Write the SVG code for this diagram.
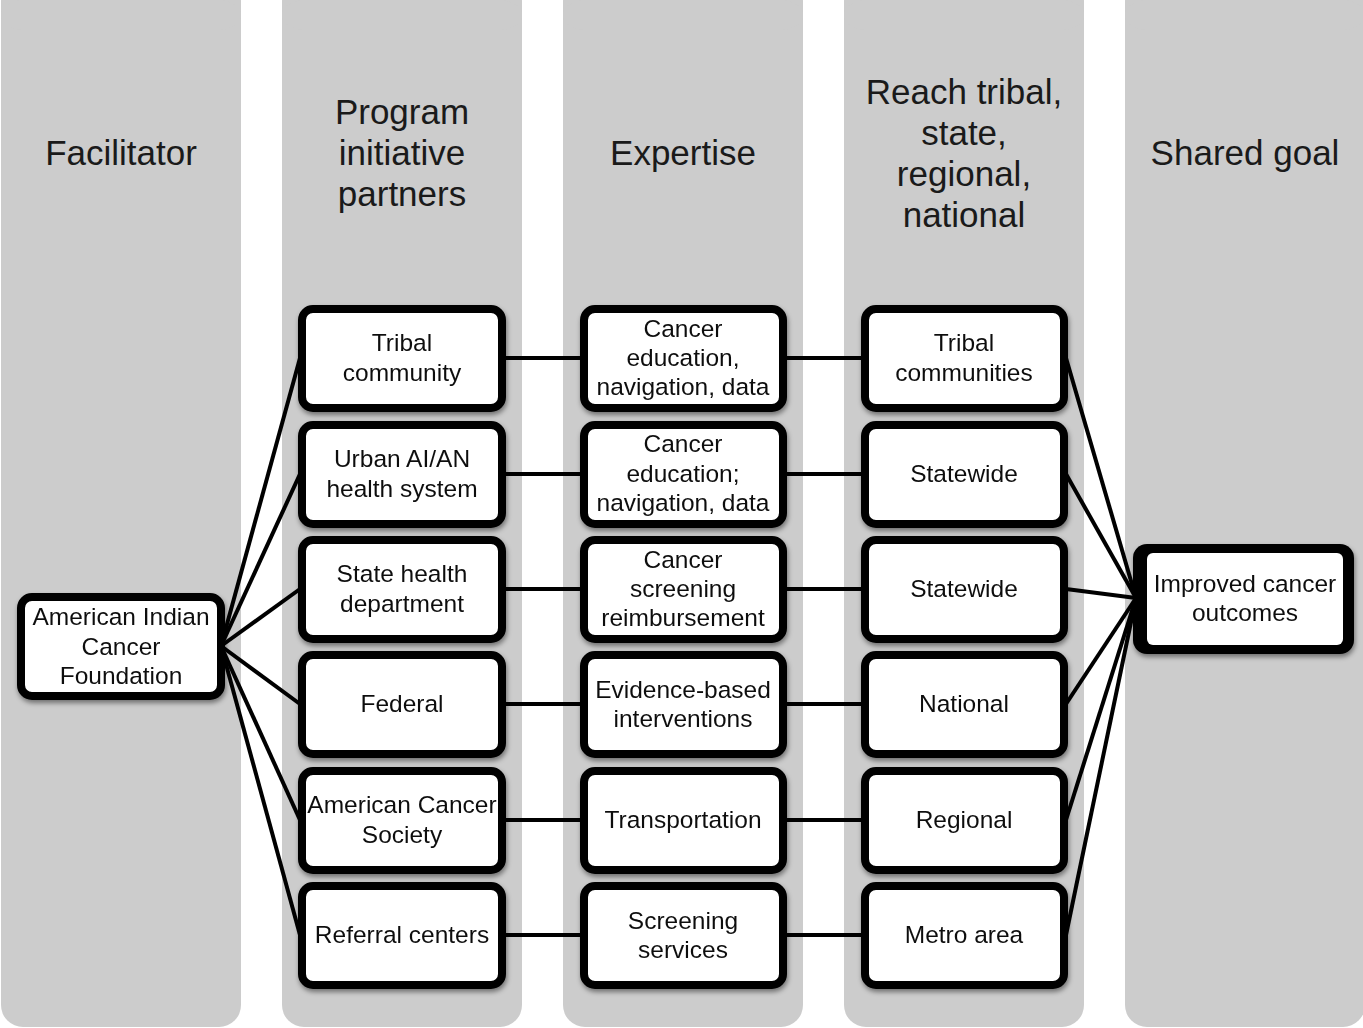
<svg xmlns="http://www.w3.org/2000/svg" width="1363" height="1028" viewBox="0 0 1363 1028">
<defs>
<style>
.col{fill:#cccccc}
.hd{font-family:"Liberation Sans",Arial,sans-serif;font-size:35px;fill:#1a1a1a;text-anchor:middle}
.box{fill:#ffffff;stroke:#000;stroke-width:8}
.t{font-family:"Liberation Sans",Arial,sans-serif;font-size:24.5px;fill:#111;text-anchor:middle}
.ln{stroke:#000;stroke-width:4;fill:none}
</style>
<filter id="sh" x="-20%" y="-20%" width="140%" height="150%">
<feDropShadow dx="1" dy="3" stdDeviation="2.5" flood-color="#000" flood-opacity="0.45"/>
</filter>
</defs>
<g id="columns">
<rect class="col" x="1" y="-20" width="240" height="1047" rx="22"/>
<rect class="col" x="282" y="-20" width="240" height="1047" rx="22"/>
<rect class="col" x="563" y="-20" width="240" height="1047" rx="22"/>
<rect class="col" x="844" y="-20" width="240" height="1047" rx="22"/>
<rect class="col" x="1125" y="-20" width="240" height="1047" rx="22"/>
<rect class="col" x="1" y="0" width="240" height="30" rx="22"/>
<rect class="col" x="282" y="0" width="240" height="30" rx="22"/>
<rect class="col" x="563" y="0" width="240" height="30" rx="22"/>
<rect class="col" x="844" y="0" width="240" height="30" rx="22"/>
<rect class="col" x="1125" y="0" width="240" height="30" rx="22"/>
</g>
<g id="headings">
<text class="hd" x="121" y="165">Facilitator</text>
<text class="hd" x="402" y="124">Program</text>
<text class="hd" x="402" y="165">initiative</text>
<text class="hd" x="402" y="206">partners</text>
<text class="hd" x="683" y="165">Expertise</text>
<text class="hd" x="964" y="104">Reach tribal,</text>
<text class="hd" x="964" y="145">state,</text>
<text class="hd" x="964" y="186">regional,</text>
<text class="hd" x="964" y="227">national</text>
<text class="hd" x="1245" y="165">Shared goal</text>
</g>
<g id="connectors">
<line class="ln" x1="221" y1="646" x2="300" y2="358"/>
<line class="ln" x1="221" y1="646" x2="300" y2="474"/>
<line class="ln" x1="221" y1="646" x2="300" y2="589"/>
<line class="ln" x1="221" y1="646" x2="300" y2="704"/>
<line class="ln" x1="221" y1="646" x2="300" y2="820"/>
<line class="ln" x1="221" y1="646" x2="300" y2="935"/>
<line class="ln" x1="506" y1="358" x2="582" y2="358"/>
<line class="ln" x1="506" y1="474" x2="582" y2="474"/>
<line class="ln" x1="506" y1="589" x2="582" y2="589"/>
<line class="ln" x1="506" y1="704" x2="582" y2="704"/>
<line class="ln" x1="506" y1="820" x2="582" y2="820"/>
<line class="ln" x1="506" y1="935" x2="582" y2="935"/>
<line class="ln" x1="786" y1="358" x2="863" y2="358"/>
<line class="ln" x1="786" y1="474" x2="863" y2="474"/>
<line class="ln" x1="786" y1="589" x2="863" y2="589"/>
<line class="ln" x1="786" y1="704" x2="863" y2="704"/>
<line class="ln" x1="786" y1="820" x2="863" y2="820"/>
<line class="ln" x1="786" y1="935" x2="863" y2="935"/>
<line class="ln" x1="1066" y1="358" x2="1136" y2="598"/>
<line class="ln" x1="1066" y1="474" x2="1136" y2="598"/>
<line class="ln" x1="1066" y1="589" x2="1136" y2="598"/>
<line class="ln" x1="1066" y1="704" x2="1136" y2="598"/>
<line class="ln" x1="1066" y1="820" x2="1136" y2="598"/>
<line class="ln" x1="1066" y1="935" x2="1136" y2="598"/>
</g>
<g id="n-aicf" filter="url(#sh)">
<rect class="box" x="21" y="597" width="200" height="99" rx="11"/>
<text class="t" x="121" y="625">American Indian</text>
<text class="t" x="121" y="655">Cancer</text>
<text class="t" x="121" y="684">Foundation</text>
</g>
<g id="n-tribal" filter="url(#sh)">
<rect class="box" x="302" y="309" width="200" height="99" rx="11"/>
<text class="t" x="402" y="351">Tribal</text>
<text class="t" x="402" y="381">community</text>
</g>
<g id="n-urban" filter="url(#sh)">
<rect class="box" x="302" y="425" width="200" height="99" rx="11"/>
<text class="t" x="402" y="467">Urban AI/AN</text>
<text class="t" x="402" y="497">health system</text>
</g>
<g id="n-state" filter="url(#sh)">
<rect class="box" x="302" y="540" width="200" height="99" rx="11"/>
<text class="t" x="402" y="582">State health</text>
<text class="t" x="402" y="612">department</text>
</g>
<g id="n-federal" filter="url(#sh)">
<rect class="box" x="302" y="655" width="200" height="99" rx="11"/>
<text class="t" x="402" y="712">Federal</text>
</g>
<g id="n-acs" filter="url(#sh)">
<rect class="box" x="302" y="771" width="200" height="99" rx="11"/>
<text class="t" x="402" y="813">American Cancer</text>
<text class="t" x="402" y="843">Society</text>
</g>
<g id="n-referral" filter="url(#sh)">
<rect class="box" x="302" y="886" width="200" height="99" rx="11"/>
<text class="t" x="402" y="943">Referral centers</text>
</g>
<g id="e-1" filter="url(#sh)">
<rect class="box" x="584" y="309" width="199" height="99" rx="11"/>
<text class="t" x="683" y="337">Cancer</text>
<text class="t" x="683" y="366">education,</text>
<text class="t" x="683" y="395">navigation, data</text>
</g>
<g id="e-2" filter="url(#sh)">
<rect class="box" x="584" y="425" width="199" height="99" rx="11"/>
<text class="t" x="683" y="452">Cancer</text>
<text class="t" x="683" y="482">education;</text>
<text class="t" x="683" y="511">navigation, data</text>
</g>
<g id="e-3" filter="url(#sh)">
<rect class="box" x="584" y="540" width="199" height="99" rx="11"/>
<text class="t" x="683" y="568">Cancer</text>
<text class="t" x="683" y="597">screening</text>
<text class="t" x="683" y="626">reimbursement</text>
</g>
<g id="e-4" filter="url(#sh)">
<rect class="box" x="584" y="655" width="199" height="99" rx="11"/>
<text class="t" x="683" y="698">Evidence-based</text>
<text class="t" x="683" y="727">interventions</text>
</g>
<g id="e-5" filter="url(#sh)">
<rect class="box" x="584" y="771" width="199" height="99" rx="11"/>
<text class="t" x="683" y="828">Transportation</text>
</g>
<g id="e-6" filter="url(#sh)">
<rect class="box" x="584" y="886" width="199" height="99" rx="11"/>
<text class="t" x="683" y="929">Screening</text>
<text class="t" x="683" y="958">services</text>
</g>
<g id="r-1" filter="url(#sh)">
<rect class="box" x="865" y="309" width="199" height="99" rx="11"/>
<text class="t" x="964" y="351">Tribal</text>
<text class="t" x="964" y="381">communities</text>
</g>
<g id="r-2" filter="url(#sh)">
<rect class="box" x="865" y="425" width="199" height="99" rx="11"/>
<text class="t" x="964" y="482">Statewide</text>
</g>
<g id="r-3" filter="url(#sh)">
<rect class="box" x="865" y="540" width="199" height="99" rx="11"/>
<text class="t" x="964" y="597">Statewide</text>
</g>
<g id="r-4" filter="url(#sh)">
<rect class="box" x="865" y="655" width="199" height="99" rx="11"/>
<text class="t" x="964" y="712">National</text>
</g>
<g id="r-5" filter="url(#sh)">
<rect class="box" x="865" y="771" width="199" height="99" rx="11"/>
<text class="t" x="964" y="828">Regional</text>
</g>
<g id="r-6" filter="url(#sh)">
<rect class="box" x="865" y="886" width="199" height="99" rx="11"/>
<text class="t" x="964" y="943">Metro area</text>
</g>
<g id="n-goal" filter="url(#sh)">
<rect x="1133" y="544" width="221" height="110" rx="14" fill="#000"/>
<rect x="1147" y="553" width="196" height="92" rx="6" fill="#fff"/>
<text class="t" x="1245" y="592">Improved cancer</text>
<text class="t" x="1245" y="621">outcomes</text>
</g>
</svg>
